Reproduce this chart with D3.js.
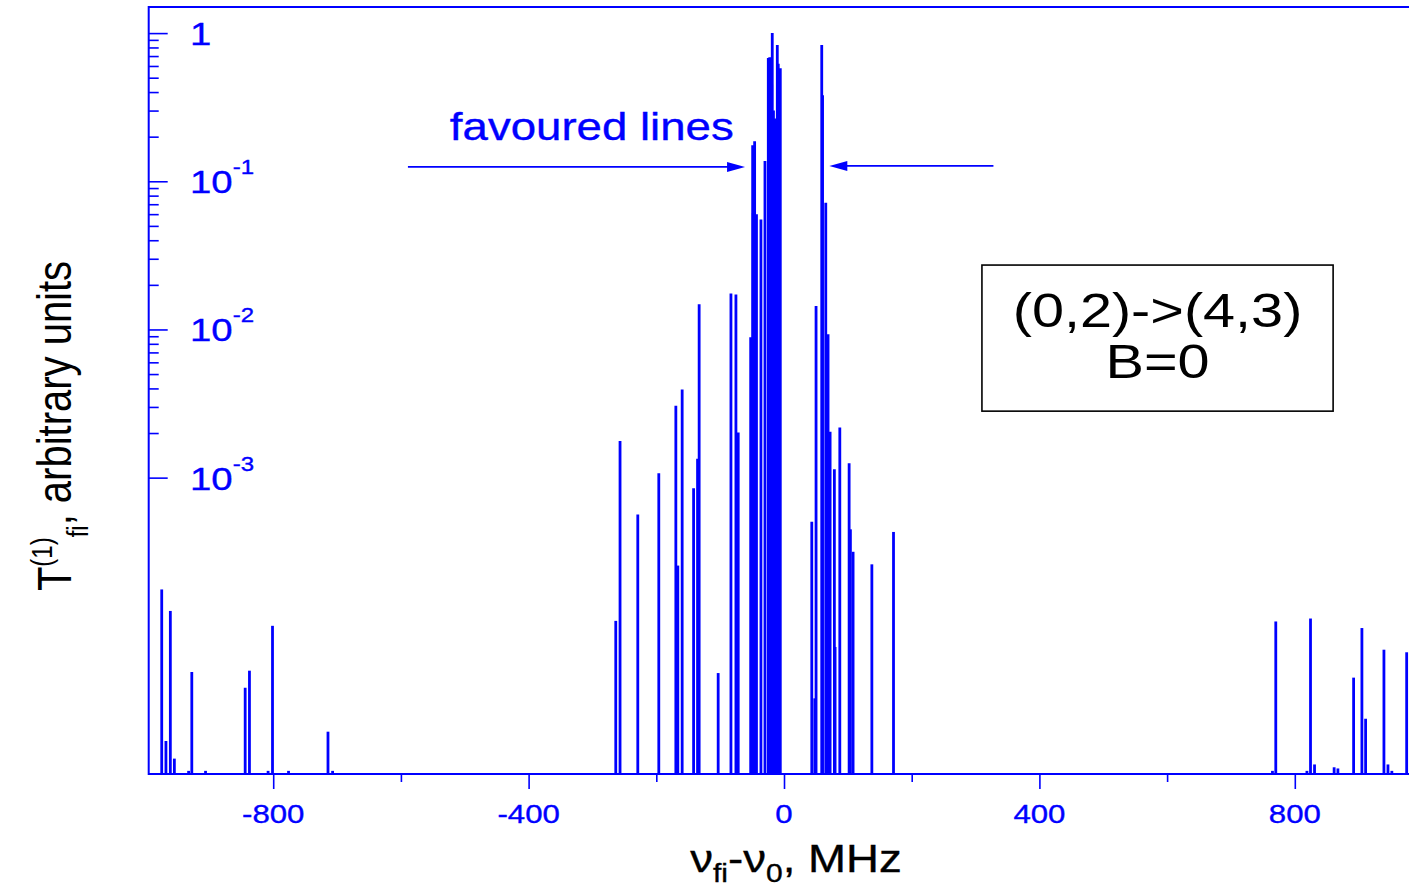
<!DOCTYPE html>
<html>
<head>
<meta charset="utf-8">
<script src="https://d3js.org/d3.v7.min.js"></script>
<style>
body { margin: 0; background: #fff; }
text { font-family: "Liberation Sans", Arial, sans-serif; }
</style>
</head>
<body>
<div id="chart"></div>
<script>
var width = 1409;
var height = 891;

// line positions (MHz) and intensities
var freqs = [-974.6, -968.0, -961.1, -954.8, -932.5, -927.5, -906, -843.9, -837.2, -808, -801.1, -776, -714.2, -707,
  -263.5, -256.8, -229.0, -196.1, -169.4, -166.3, -159.5, -141.6, -135.4, -132.9, -103.1,
  -83.1, -75.3, -71.7, -52.2, -49.1, -48.2, -46.0, -43.1, -36.1, -29.8,
  -24.6, -22.4, -19.3, -18.4, -16.5, -14.6, -12.5, -10.5, -9.0, -7.4, -5.8,
  43.5, 48.2, 50.2, 59.1, 60.4, 65.4, 69.0, 72.2, 78.9, 80.0, 87.4, 102.0, 104.0, 108.2, 137.6, 171.5,
  765, 770.2, 819, 824.6, 830.9, 861.6, 867.5, 892.1, 905.1, 910.9, 939.6, 945.9, 952, 975.2];
var amps = [1.76e-4, 1.67e-5, 1.26e-4, 1.27e-5, 1.05e-5, 4.88e-5, 1.05e-5, 3.82e-5, 4.98e-5, 1.05e-5, 1.0e-4, 1.05e-5, 1.93e-5, 1.05e-5,
  1.08e-4, 1.77e-3, 5.65e-4, 1.07e-3, 3.06e-3, 2.55e-4, 3.94e-3, 8.47e-4, 1.34e-3, 1.48e-2, 4.8e-5,
  1.75e-2, 1.72e-2, 2.02e-3, 8.85e-3, 0.175, 0.061, 0.186, 0.06, 0.0553, 0.137,
  0.68, 0.686, 0.45, 1.0, 0.3, 0.265, 0.25, 0.83, 0.62, 0.3, 0.578,
  5.04e-4, 3.24e-5, 1.44e-2, 0.83, 0.38, 0.0716, 9.27e-3, 2.04e-3, 1.14e-3, 7.2e-5, 2.18e-3, 1.25e-3, 4.48e-4, 3.16e-4, 2.6e-4, 4.3e-4,
  1.05e-5, 1.07e-4, 1.05e-5, 1.12e-4, 1.16e-5, 1.11e-5, 1.09e-5, 4.47e-5, 9.66e-5, 2.36e-5, 6.9e-5, 1.16e-5, 1.05e-5, 6.63e-5];

var xMajor = [-800, -400, 0, 400, 800];
var xMinor = [-600, -200, 200, 600, 1000];
var yMajor = [1, 1e-1, 1e-2, 1e-3];
var yLabelExp = ["", "-1", "-2", "-3"];
var yMinor = [];
[1e-3, 1e-2, 1e-1].forEach(function(d) {
  for (var k = 2; k <= 9; k++) yMinor.push(k * d);
});

var blue = "#0000ff";
var sx = 1.2; // glyphs look horizontally stretched in the original

var x = d3.scaleLinear().domain([-995, 1000]).range([148.7, 1422.5]);
var y = d3.scaleLog().domain([1e-5, 1.5]).range([774, 7]);

var svg = d3.select("#chart").append("svg")
  .attr("width", width)
  .attr("height", height);

// spectral lines
svg.append("g").selectAll("line")
  .data(freqs)
  .enter()
  .append("line")
  .attr("x1", function(d) { return x(d); })
  .attr("x2", function(d) { return x(d); })
  .attr("y1", y(1e-5))
  .attr("y2", function(d, i) { return y(amps[i]); })
  .attr("stroke", blue)
  .attr("stroke-width", 2.8);

// axes
function styleAxis(g) {
  g.select(".domain").remove();
  g.selectAll(".tick line").attr("stroke", blue).attr("stroke-width", 1.6);
  g.selectAll(".tick text").remove();
}

svg.append("g")
  .attr("transform", "translate(0," + y(1e-5) + ")")
  .call(d3.axisBottom(x).tickValues(xMajor).tickSize(15))
  .call(styleAxis);
svg.append("g")
  .attr("transform", "translate(0," + y(1e-5) + ")")
  .call(d3.axisBottom(x).tickValues(xMinor).tickSize(8))
  .call(styleAxis);
svg.append("g")
  .attr("transform", "translate(" + x(-995) + ",0)")
  .call(d3.axisRight(y).tickValues(yMajor).tickSize(19))
  .call(styleAxis);
svg.append("g")
  .attr("transform", "translate(" + x(-995) + ",0)")
  .call(d3.axisRight(y).tickValues(yMinor).tickSize(10))
  .call(styleAxis);

// frame
svg.append("path")
  .attr("d", "M" + x(1000) + "," + y(1.5) + "H" + x(-995) + "V" + y(1e-5) + "H" + x(1000))
  .attr("fill", "none")
  .attr("stroke", blue)
  .attr("stroke-width", 2);

// stretched text helper
function stext(px, py, str, size, color, anchor) {
  var g = svg.append("g").attr("transform", "translate(" + px + "," + py + ") scale(" + sx + ",1)");
  return g.append("text")
    .attr("text-anchor", anchor || "middle")
    .attr("font-size", size)
    .attr("fill", color)
    .attr("stroke", color)
    .attr("stroke-width", 0.35)
    .text(str);
}

// x tick labels
xMajor.forEach(function(d) {
  stext(x(d), 823, d, 26, blue);
});

// y tick labels
yMajor.forEach(function(d, i) {
  var t = stext(190, y(d) + 12, "", 32, blue, "start");
  t.append("tspan").text(i === 0 ? "1" : "10");
  if (yLabelExp[i]) {
    t.append("tspan").attr("font-size", 20).attr("dy", -19).text(yLabelExp[i]);
  }
});

// x axis title
var xt = stext(796, 872, "", 38, "#000");
xt.append("tspan").text("\u03bd");
xt.append("tspan").attr("font-size", 25).attr("dy", 10).text("fi");
xt.append("tspan").attr("dy", -10).text("-\u03bd");
xt.append("tspan").attr("font-size", 25).attr("dy", 10).text("0");
xt.append("tspan").attr("dy", -10).text(", MHz");

// y axis title
var yt = svg.append("g")
  .attr("transform", "translate(71,426) rotate(-90) scale(1," + sx + ")")
  .append("text")
  .attr("text-anchor", "middle")
  .attr("font-size", 40)
  .attr("fill", "#000");
yt.append("tspan").text("T");
yt.append("tspan").attr("font-size", 24).attr("dy", -16).text("(1)");
yt.append("tspan").attr("font-size", 24).attr("dy", 30).text("fi");
yt.append("tspan").attr("dy", -14).text(", arbitrary units");

// favoured lines annotation
stext(x(-301), y(0.19), "favoured lines", 38, blue);

function arrow(f0, f1, v) {
  var dir = f1 > f0 ? 1 : -1;
  var tip = x(f1), yy = y(v);
  svg.append("line")
    .attr("x1", x(f0)).attr("x2", tip - dir * 14)
    .attr("y1", yy).attr("y2", yy)
    .attr("stroke", blue).attr("stroke-width", 1.6);
  svg.append("path")
    .attr("d", "M" + tip + "," + yy + "L" + (tip - dir * 18) + "," + (yy - 5) + "L" + (tip - dir * 18) + "," + (yy + 5) + "Z")
    .attr("fill", blue);
}
arrow(-589, -61, 0.125);
arrow(328, 71, 0.127);

// label box
svg.append("rect")
  .attr("x", x(310))
  .attr("y", y(0.0272))
  .attr("width", x(860) - x(310))
  .attr("height", y(0.00281) - y(0.0272))
  .attr("fill", "none")
  .attr("stroke", "#000")
  .attr("stroke-width", 1.6);
var bx = (x(310) + x(860)) / 2;
stext(bx, 327, "(0,2)->(4,3)", 48, "#000").attr("stroke-width", 0);
stext(bx, 378, "B=0", 48, "#000").attr("stroke-width", 0);
</script>
</body>
</html>
